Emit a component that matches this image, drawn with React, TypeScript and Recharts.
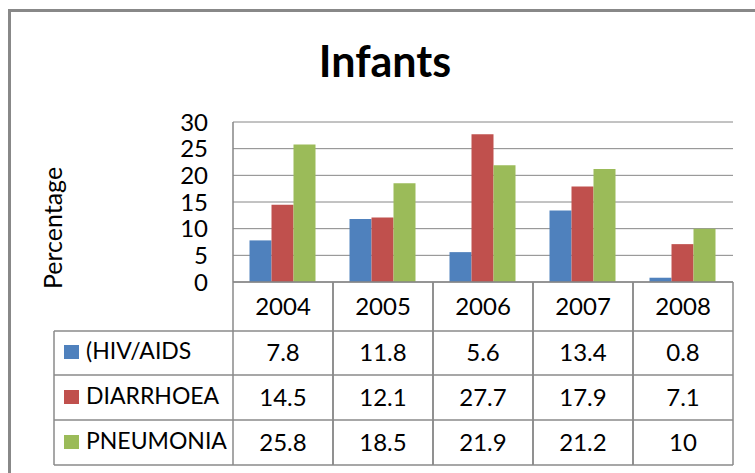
import React from "react";
import { BarChart, Bar, XAxis, YAxis, CartesianGrid } from "recharts";

const years = ["2004", "2005", "2006", "2007", "2008"];
const hivAids = [7.8, 11.8, 5.6, 13.4, 0.8];
const diarrhoea = [14.5, 12.1, 27.7, 17.9, 7.1];
const pneumonia = [25.8, 18.5, 21.9, 21.2, 10];
const yTicks = [0, 5, 10, 15, 20, 25, 30];

const series = [
  { key: "hiv", name: "(HIV/AIDS", color: "#4F81BD", values: hivAids },
  { key: "diarrhoea", name: "DIARRHOEA", color: "#C0504D", values: diarrhoea },
  { key: "pneumonia", name: "PNEUMONIA", color: "#9BBB59", values: pneumonia },
];

const data = years.map((year, i) => ({
  year,
  hiv: hivAids[i],
  diarrhoea: diarrhoea[i],
  pneumonia: pneumonia[i],
}));

const FONT = "Lato, 'Open Sans', sans-serif";
const LINE = "#8a8a8a";
// row bottoms below the x axis line: header, then one row per series
const rowEdges = [49, 93, 138, 183];
const legendLeft = 54;

function TableTick(props: any) {
  const { x, y, payload, index } = props;
  const half = payload && payload.offset ? payload.offset : 50;
  const i = index ?? years.indexOf(payload.value);
  const left = x - half;
  const right = x + half;
  return (
    <g fontFamily={FONT} fontSize={24} fill="#000">
      <line x1={left} y1={y} x2={left} y2={y + rowEdges[3]} stroke={LINE} strokeWidth={1.5} />
      <line x1={right} y1={y} x2={right} y2={y + rowEdges[3]} stroke={LINE} strokeWidth={1.5} />
      {rowEdges.map((r) => (
        <line key={r} x1={left} y1={y + r} x2={right} y2={y + r} stroke={LINE} strokeWidth={1.5} />
      ))}
      <text x={x} y={y + 33} textAnchor="middle">{payload.value}</text>
      {series.map((s, k) => (
        <text key={s.key} x={x} y={y + 79 + k * 45} textAnchor="middle">
          {s.values[i]}
        </text>
      ))}
      {i === 0 ? (
        <g>
          <line x1={legendLeft} y1={y + rowEdges[0]} x2={legendLeft} y2={y + rowEdges[3]} stroke={LINE} strokeWidth={1.5} />
          {rowEdges.map((r) => (
            <line key={r} x1={legendLeft} y1={y + r} x2={left} y2={y + r} stroke={LINE} strokeWidth={1.5} />
          ))}
          {series.map((s, k) => (
            <g key={s.key}>
              <rect x={64} y={y + 63 + k * 45} width={15} height={14} fill={s.color} />
              <text x={86} y={y + 77 + k * 45} fontSize={23}>{s.name}</text>
            </g>
          ))}
        </g>
      ) : null}
    </g>
  );
}

export default function App() {
  return (
    <div style={{ position: "absolute", left: 0, top: 0, width: 755, height: 473, overflow: "hidden", background: "#fff" }}>
      <div style={{ position: "absolute", left: 8, top: 9, width: 800, height: 520, border: "3px solid #888", boxSizing: "border-box" }} />
      <svg width={755} height={473} style={{ position: "absolute", left: 0, top: 0 }}>
        <text x={385} y={77} textAnchor="middle" fontFamily={FONT} fontWeight="bold" fontSize={43} fill="#000">
          Infants
        </text>
        <text
          x={62}
          y={228}
          transform="rotate(-90 62 228)"
          textAnchor="middle"
          fontFamily={FONT}
          fontSize={25}
          fill="#000"
        >
          Percentage
        </text>
      </svg>
      <div style={{ position: "absolute", left: 0, top: 0 }}>
        <BarChart
          width={755}
          height={473}
          data={data}
          margin={{ top: 122, right: 22, left: 0, bottom: 8 }}
          barCategoryGap="16.5%"
          barGap={0}
        >
          <CartesianGrid vertical={false} stroke="#868686" strokeWidth={1} />
          <XAxis
            dataKey="year"
            height={183}
            tickSize={0}
            tickMargin={0}
            axisLine={{ stroke: "#868686", strokeWidth: 1.5 }}
            tickLine={false}
            tick={<TableTick />}
            interval={0}
          />
          <YAxis
            width={233}
            domain={[0, 30]}
            ticks={yTicks}
            interval={0}
            tickSize={0}
            tickMargin={25}
            tickLine={false}
            axisLine={{ stroke: "#868686", strokeWidth: 1.5 }}
            tick={{ fill: "#000", fontSize: 24, fontFamily: FONT }}
          />
          {series.map((s) => (
            <Bar key={s.key} dataKey={s.key} name={s.name} fill={s.color} isAnimationActive={false} />
          ))}
        </BarChart>
      </div>
    </div>
  );
}
